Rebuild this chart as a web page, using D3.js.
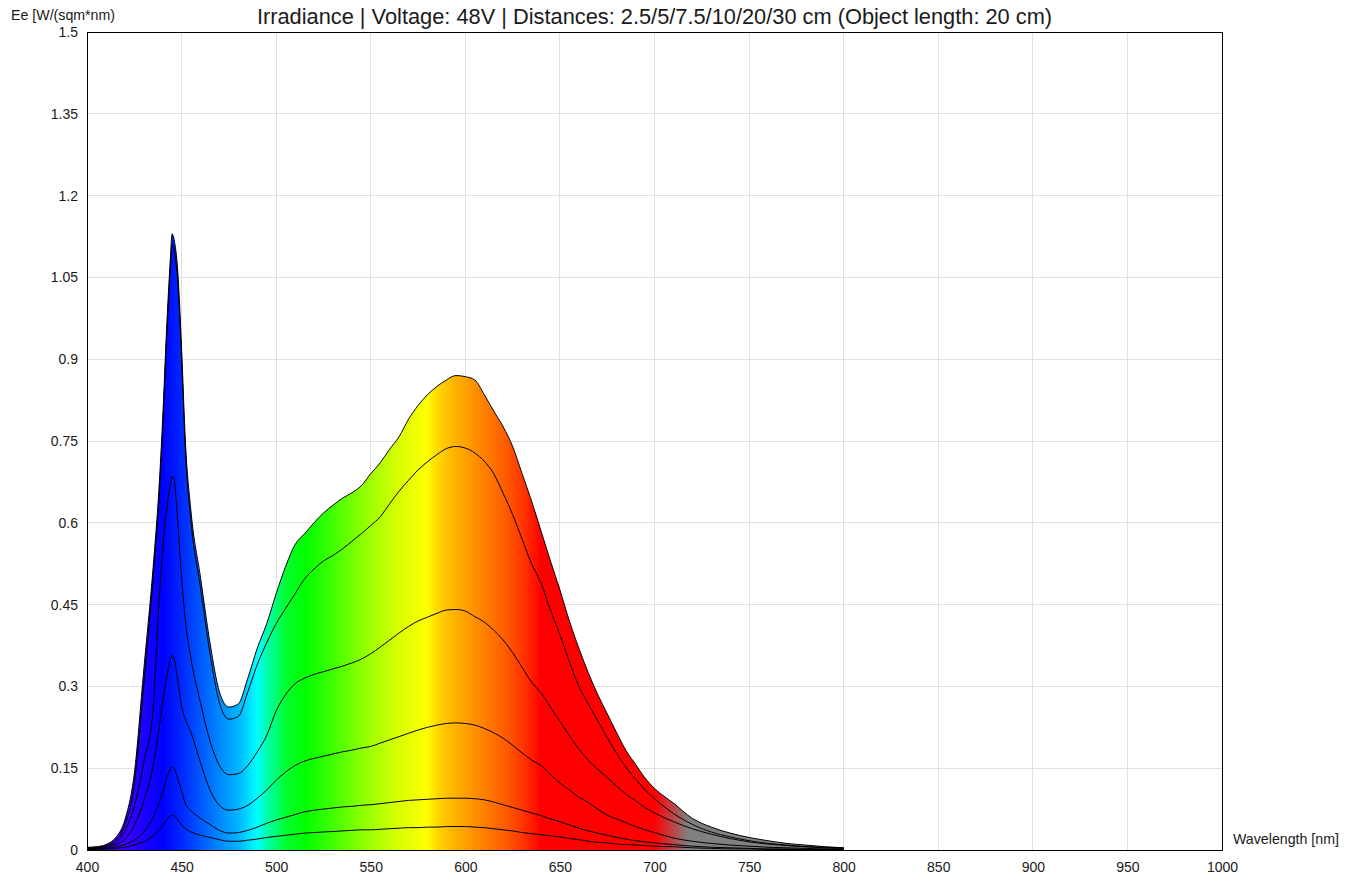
<!DOCTYPE html>
<html lang="en">
<head>
<meta charset="utf-8">
<title>Irradiance</title>
<style>
body{
  margin: 0;
  background: #fff;
}
#chart text{
  font-family: "Liberation Sans", Arial, sans-serif;
  fill: #1a1a1a;
}
.grid line{
  stroke: #e0e0e0;
  stroke-width: 1;
  shape-rendering: crispEdges;
}
.curve{
  fill: none;
  stroke: #000;
  stroke-width: 1;
}
</style>
</head>
<body>
<div id="chart"></div>
<script src="https://d3js.org/d3.v7.min.js"></script>
<script>
// wavelengths (nm) shared by all six distance curves
var wavelengths = [400,405,410,415,420,425,430,435,438,440,442,444,445,446,448,450,452,455,
  460,465,470,475,480,485,490,495,500,505,510,515,520,525,530,535,540,545,550,555,560,565,
  570,575,580,585,590,595,600,605,610,615,620,625,630,635,640,645,650,655,660,665,670,675,
  680,685,690,695,700,710,720,730,740,750,760,770,780,790,800];

var d25 = [0.005,0.006,0.01,0.022,0.055,0.14,0.33,0.52,0.66,0.79,0.95,1.08,1.13,1.12,1.06,0.92,0.75,0.62,
  0.50,0.38,0.29,0.262,0.268,0.315,0.37,0.415,0.47,0.52,0.56,0.58,0.60,0.618,0.632,0.645,0.655,0.668,
  0.69,0.71,0.735,0.758,0.79,0.815,0.835,0.85,0.862,0.87,0.868,0.862,0.835,0.805,0.776,0.74,0.69,0.64,
  0.585,0.53,0.477,0.42,0.37,0.325,0.285,0.25,0.215,0.182,0.157,0.132,0.113,0.086,0.058,0.042,0.031,
  0.023,0.017,0.012,0.009,0.006,0.004];

var d5 = [0.004,0.005,0.008,0.018,0.045,0.12,0.30,0.50,0.64,0.77,0.93,1.06,1.11,1.10,1.04,0.90,0.73,0.60,
  0.48,0.36,0.27,0.24,0.245,0.29,0.34,0.38,0.415,0.443,0.47,0.497,0.515,0.53,0.54,0.552,0.566,0.58,
  0.595,0.611,0.635,0.658,0.678,0.697,0.712,0.725,0.736,0.74,0.737,0.728,0.713,0.69,0.654,0.615,0.57,
  0.525,0.49,0.44,0.395,0.345,0.30,0.268,0.237,0.206,0.177,0.151,0.13,0.11,0.094,0.067,0.047,0.033,
  0.024,0.017,0.012,0.009,0.006,0.005,0.004];

var d75 = [0.003,0.004,0.007,0.013,0.035,0.08,0.16,0.26,0.45,0.55,0.62,0.67,0.685,0.68,0.60,0.50,0.42,0.35,
  0.27,0.20,0.155,0.138,0.14,0.155,0.18,0.21,0.255,0.285,0.305,0.315,0.322,0.327,0.332,0.337,0.343,
  0.35,0.36,0.372,0.385,0.398,0.41,0.42,0.427,0.434,0.44,0.441,0.438,0.428,0.418,0.403,0.385,0.362,
  0.335,0.308,0.288,0.262,0.236,0.21,0.185,0.165,0.148,0.133,0.117,0.102,0.09,0.078,0.068,0.052,0.039,
  0.029,0.021,0.015,0.011,0.008,0.006,0.004,0.003];

var d10 = [0.002,0.003,0.005,0.009,0.02,0.045,0.09,0.155,0.22,0.27,0.315,0.348,0.357,0.352,0.31,0.263,0.24,0.215,
  0.16,0.11,0.082,0.073,0.075,0.082,0.095,0.11,0.128,0.143,0.155,0.163,0.168,0.172,0.176,0.18,0.183,
  0.187,0.19,0.196,0.202,0.208,0.214,0.22,0.225,0.229,0.232,0.233,0.232,0.229,0.223,0.215,0.205,0.192,
  0.178,0.165,0.155,0.138,0.123,0.11,0.097,0.087,0.075,0.064,0.057,0.05,0.043,0.037,0.032,0.022,0.016,
  0.012,0.009,0.007,0.005,0.004,0.003,0.002,0.002];

var d20 = [0.001,0.002,0.003,0.005,0.01,0.018,0.033,0.06,0.085,0.105,0.13,0.148,0.153,0.15,0.13,0.108,0.085,0.072,
  0.058,0.047,0.036,0.031,0.032,0.036,0.042,0.049,0.055,0.06,0.065,0.07,0.073,0.075,0.077,0.079,0.08,
  0.082,0.083,0.085,0.087,0.089,0.091,0.092,0.093,0.094,0.095,0.095,0.095,0.094,0.092,0.088,0.083,0.078,
  0.073,0.068,0.063,0.057,0.052,0.046,0.04,0.035,0.031,0.027,0.023,0.02,0.017,0.015,0.013,0.01,0.007,
  0.005,0.004,0.003,0.002,0.002,0.001,0.001,0.001];

var d30 = [0.001,0.001,0.002,0.003,0.005,0.009,0.015,0.026,0.036,0.045,0.055,0.062,0.064,0.063,0.055,0.046,0.039,0.033,
  0.027,0.023,0.019,0.016,0.016,0.018,0.02,0.023,0.025,0.027,0.029,0.031,0.032,0.033,0.034,0.035,0.036,
  0.037,0.037,0.038,0.039,0.04,0.041,0.041,0.042,0.042,0.043,0.043,0.043,0.042,0.041,0.039,0.037,0.035,
  0.032,0.03,0.028,0.026,0.024,0.021,0.019,0.016,0.014,0.013,0.011,0.01,0.009,0.008,0.007,0.006,0.004,
  0.003,0.002,0.002,0.001,0.001,0.001,0.001,0.001];

var series = [d25, d5, d75, d10, d20, d30];

var xTicks = [400,450,500,550,600,650,700,750,800,850,900,950,1000];
var yTicks = [0,0.15,0.3,0.45,0.6,0.75,0.9,1.05,1.2,1.35,1.5];

// spectrum colours along the wavelength axis
var specNm = [400,420,440,450,460,470,480,490,495,505,515,530,550,565,580,585,595,605,620,630,640,700,718,800];
var specCol = ["#6000ff","#3800ff","#0000ff","#0028ff","#0058ff","#0088ff","#00b4ff","#00ffff","#00ffb0",
  "#00ff30","#00ff00","#40ff00","#a0ff00","#d8ff00","#ffff00","#ffd800","#ffb000","#ff9000","#ff6000",
  "#ff3800","#ff0000","#ff0000","#808080","#808080"];

var title = "Irradiance | Voltage: 48V | Distances: 2.5/5/7.5/10/20/30 cm (Object length: 20 cm)";

var W = 1361, H = 881;
var margin = { top: 32, right: 139, bottom: 31, left: 87 };
var width = W - margin.left - margin.right;
var height = H - margin.top - margin.bottom;

var svg = d3.select("#chart").append("svg")
  .attr("width", W)
  .attr("height", H);

var graph = svg.append("g")
  .attr("transform", `translate(${margin.left}, ${margin.top})`);

var x = d3.scaleLinear().domain([400, 1000]).range([0, width]);
var y = d3.scaleLinear().domain([0, 1.5]).range([height, 0]);

// grid
var grid = graph.append("g").attr("class", "grid");
grid.selectAll(".vx").data(xTicks).enter().append("line")
  .attr("x1", (d) => x(d)).attr("x2", (d) => x(d))
  .attr("y1", 0).attr("y2", height);
grid.selectAll(".hy").data(yTicks).enter().append("line")
  .attr("x1", 0).attr("x2", width)
  .attr("y1", (d) => y(d)).attr("y2", (d) => y(d));

// gradient
var defs = svg.append("defs");
var grad = defs.append("linearGradient")
  .attr("id", "spectrum")
  .attr("gradientUnits", "userSpaceOnUse")
  .attr("x1", x(400)).attr("x2", x(800))
  .attr("y1", 0).attr("y2", 0);
grad.selectAll("stop").data(specNm).enter().append("stop")
  .attr("offset", (d) => (d - 400) / 400)
  .attr("stop-color", (d, i) => specCol[i]);

var pts = (s) => wavelengths.map((w, i) => [w, s[i]]);

var area = d3.area()
  .x((d) => x(d[0]))
  .y0(y(0))
  .y1((d) => y(d[1]))
  .curve(d3.curveMonotoneX);

var line = d3.line()
  .x((d) => x(d[0]))
  .y((d) => y(d[1]))
  .curve(d3.curveMonotoneX);

graph.append("path")
  .attr("d", area(pts(d25)))
  .attr("fill", "url(#spectrum)");

graph.selectAll(".curve").data(series).enter().append("path")
  .attr("class", "curve")
  .attr("d", (s) => line(pts(s)));

// frame
graph.append("rect")
  .attr("width", width).attr("height", height)
  .attr("fill", "none").attr("stroke", "#000").attr("stroke-width", 1)
  .attr("shape-rendering", "crispEdges");

// axes
var xAxis = d3.axisBottom(x).tickValues(xTicks).tickSize(0).tickPadding(12).tickFormat(d3.format("d"));
var yAxis = d3.axisLeft(y).tickValues(yTicks).tickSize(0).tickPadding(9).tickFormat((d) => String(d));

var xg = graph.append("g").attr("transform", `translate(0, ${height})`).call(xAxis);
var yg = graph.append("g").call(yAxis);
[xg, yg].forEach((g) => {
  g.select(".domain").remove();
  g.selectAll("text").style("font-size", "14px").attr("fill", "#1a1a1a")
    .style("font-family", '"Liberation Sans", Arial, sans-serif');
});

svg.append("text")
  .attr("x", margin.left + width / 2)
  .attr("y", 24)
  .attr("text-anchor", "middle")
  .style("font-size", "21.8px")
  .text(title);

svg.append("text")
  .attr("x", 11)
  .attr("y", 20)
  .style("font-size", "14.2px")
  .text("Ee [W/(sqm*nm)");

svg.append("text")
  .attr("x", 1233)
  .attr("y", 844)
  .style("font-size", "14.2px")
  .text("Wavelength [nm]");
</script>
</body>
</html>
